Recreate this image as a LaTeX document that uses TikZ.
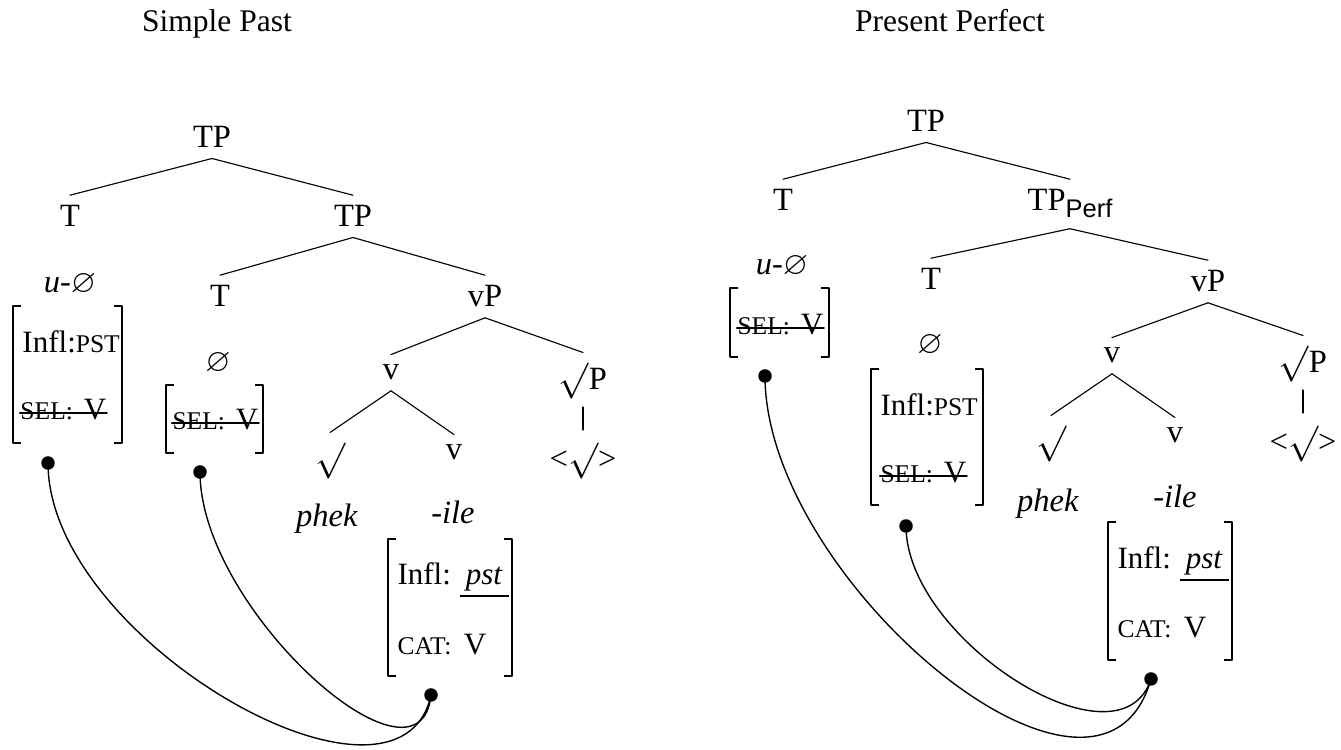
\documentclass[tikz,border=0pt]{standalone}
\usepackage{graphicx}
\usepackage{amssymb}
\usepackage{fontspec}
\setmainfont{Liberation Serif}
\setsansfont{Liberation Sans}
\newcommand{\smcp}[1]{{\fontsize{10.2}{12}\selectfont #1}}
\newcommand{\perfsub}{\raisebox{-2.8pt}{\sffamily\fontsize{10.2}{12}\selectfont Perf}}
\newcommand{\rootsign}{\scalebox{1.2}{$\surd$}}

\begin{document}
\begin{tikzpicture}[
    x=0.4pt,
    y=-0.4pt,
    line cap=round,
    line join=round,
    font=\fontsize{12.4}{15}\selectfont,
    cat/.style={
        anchor=base,
        inner sep=4pt,
        font=\fontsize{13}{16}\selectfont
    },
    title/.style={
        anchor=base,
        font=\fontsize{12.6}{15}\selectfont
    },
    feat/.style={
        anchor=base west,
        inner sep=0pt
    },
    branch/.style={
        line width=0.45pt
    },
    avmbracket/.style={
        line width=0.6pt,
        line cap=butt
    },
    struck/.style={
        line width=0.9pt
    },
    agree/.style={
        line width=0.55pt
    },
    agreedot/.style={
        circle,
        fill=black,
        inner sep=0pt,
        minimum size=5.4pt
    }
]

\useasboundingbox (0,0) rectangle (1341,750);

% -------------------------------------------------
% Simple Past: tree
% -------------------------------------------------

\node[title] (sp-title) at (217,32) {Simple Past};

\node[cat] (sp-tp)    at (212,148) {TP};
\node[cat] (sp-t)     at (70,227)  {T};
\node[cat] (sp-tp2)   at (353,227) {TP};
\node[cat] (sp-t2)    at (220,307) {T};
\node[cat] (sp-vp)    at (485,307) {vP};
\node[cat] (sp-v)     at (391,380) {v};
\node[cat] (sp-rootp) at (583,390) {\rootsign P};
\node[cat] (sp-root)  at (330,470) {\rootsign};
\node[cat] (sp-v2)    at (454,460) {v};
\node[cat] (sp-trace) at (583,470) {<\rootsign>};

\draw[branch] (sp-tp.south) -- (sp-t.north);
\draw[branch] (sp-tp.south) -- (sp-tp2.north);
\draw[branch] (sp-tp2.south) -- (sp-t2.north);
\draw[branch] (sp-tp2.south) -- (sp-vp.north);
\draw[branch] (sp-vp.south) -- (sp-v.north);
\draw[branch] (sp-vp.south) -- (sp-rootp.north);
\draw[branch] (sp-v.south) -- (sp-root.north);
\draw[branch] (sp-v.south) -- (sp-v2.north);
\draw[branch, shorten <=-1pt, shorten >=1pt]
    (sp-rootp.south) -- (sp-trace.north);

% -------------------------------------------------
% Simple Past: exponents and feature bundles
% -------------------------------------------------

\node[cat] (sp-u)    at (70,293)  {\textit{u}-$\varnothing$};
\node[cat, anchor=center] (sp-null) at (218,363) {$\varnothing$};
\node[cat] (sp-phek) at (327,527) {\textit{phek}};
\node[cat] (sp-ile)  at (453,524) {\textit{-ile}};

\node[feat] (sp-infl1) at (22,353)  {Infl:\smcp{PST}};
\node[feat] (sp-sel1)  at (20,420)  {\smcp{SEL:}\hspace{4.4pt}V};
\node[feat] (sp-sel2)  at (172,430) {\smcp{SEL:}\hspace{4.4pt}V};
\node[feat] (sp-infl3) at (397,585)
    {Infl:\hspace{3.6pt}\underline{\hspace{2.4pt}\textit{pst}\hspace{2.4pt}}};
\node[feat] (sp-cat3)  at (397,655) {\smcp{CAT:}\hspace{5pt}V};

\draw[struck] ([yshift=2.8pt]sp-sel1.base west) -- ([yshift=2.8pt]sp-sel1.base east);
\draw[struck] ([yshift=2.8pt]sp-sel2.base west) -- ([yshift=2.8pt]sp-sel2.base east);

\draw[avmbracket] (21,306) -- (13,306) -- (13,443) -- (21,443)
    (114,306) -- (122,306) -- (122,443) -- (114,443);
\draw[avmbracket] (174,385) -- (166,385) -- (166,453) -- (174,453)
    (255,385) -- (263,385) -- (263,453) -- (255,453);
\draw[avmbracket] (396,539) -- (388,539) -- (388,676) -- (396,676)
    (504,539) -- (512,539) -- (512,676) -- (504,676);

% -------------------------------------------------
% Simple Past: agreement links
% -------------------------------------------------

\node[agreedot] (sp-d1) at (48,463)  {};
\node[agreedot] (sp-d2) at (200,472) {};
\node[agreedot] (sp-d3) at (431,695) {};

\draw[agree] (sp-d1.center)
    .. controls (48,640) and (400,840)
        .. (sp-d3.center);
\draw[agree] (sp-d2.center)
    .. controls (200,610) and (420,805)
        .. (sp-d3.center);

% -------------------------------------------------
% Present Perfect: tree
% -------------------------------------------------

\node[title] (pp-title) at (950,32) {Present Perfect};

\node[cat] (pp-tp)    at (926,132)  {TP};
\node[cat] (pp-t)     at (783,211)  {T};
\node[cat] (pp-perf)  at (1070,211) {TP\perfsub};
\node[cat] (pp-t2)    at (931,290)  {T};
\node[cat] (pp-vp)    at (1208,292) {vP};
\node[cat] (pp-v)     at (1112,363) {v};
\node[cat] (pp-rootp) at (1303,373) {\rootsign P};
\node[cat] (pp-root)  at (1051,453) {\rootsign};
\node[cat] (pp-v2)    at (1175,443) {v};
\node[cat] (pp-trace) at (1303,453) {<\rootsign>};

\draw[branch] (pp-tp.south) -- (pp-t.north);
\draw[branch] (pp-tp.south) -- (pp-perf.north);
\draw[branch] (pp-perf.south) -- (pp-t2.north);
\draw[branch] (pp-perf.south) -- (pp-vp.north);
\draw[branch] (pp-vp.south) -- (pp-v.north);
\draw[branch] (pp-vp.south) -- (pp-rootp.north);
\draw[branch] (pp-v.south) -- (pp-root.north);
\draw[branch] (pp-v.south) -- (pp-v2.north);
\draw[branch, shorten <=-1pt, shorten >=1pt]
    (pp-rootp.south) -- (pp-trace.north);

% -------------------------------------------------
% Present Perfect: exponents and feature bundles
% -------------------------------------------------

\node[cat] (pp-u)    at (782,275)  {\textit{u}-$\varnothing$};
\node[cat, anchor=center] (pp-null) at (930,345) {$\varnothing$};
\node[cat] (pp-phek) at (1048,512) {\textit{phek}};
\node[cat] (pp-ile)  at (1175,508) {\textit{-ile}};

\node[feat] (pp-sel1)  at (737,335)  {\smcp{SEL:}\hspace{4.4pt}V};
\node[feat] (pp-infl2) at (880,416)  {Infl:\smcp{PST}};
\node[feat] (pp-sel2)  at (880,483)  {\smcp{SEL:}\hspace{4.4pt}V};
\node[feat] (pp-infl3) at (1117,569)
    {Infl:\hspace{3.6pt}\underline{\hspace{2.4pt}\textit{pst}\hspace{2.4pt}}};
\node[feat] (pp-cat3)  at (1117,638) {\smcp{CAT:}\hspace{5pt}V};

\draw[struck] ([yshift=2.8pt]pp-sel1.base west) -- ([yshift=2.8pt]pp-sel1.base east);
\draw[struck] ([yshift=2.8pt]pp-sel2.base west) -- ([yshift=2.8pt]pp-sel2.base east);

\draw[avmbracket] (738,288) -- (730,288) -- (730,357) -- (738,357)
    (821,288) -- (829,288) -- (829,357) -- (821,357);
\draw[avmbracket] (879,369) -- (871,369) -- (871,505) -- (879,505)
    (975,369) -- (983,369) -- (983,505) -- (975,505);
\draw[avmbracket] (1116,522) -- (1108,522) -- (1108,660) -- (1116,660)
    (1224,522) -- (1232,522) -- (1232,660) -- (1224,660);

% -------------------------------------------------
% Present Perfect: agreement links
% -------------------------------------------------

\node[agreedot] (pp-d1) at (765,376)  {};
\node[agreedot] (pp-d2) at (906,526)  {};
\node[agreedot] (pp-d3) at (1151,679) {};

\draw[agree] (pp-d1.center)
    .. controls (765,580) and (1100,860)
        .. (pp-d3.center);
\draw[agree] (pp-d2.center)
    .. controls (906,640) and (1120,775)
        .. (pp-d3.center);

\end{tikzpicture}
\end{document}
